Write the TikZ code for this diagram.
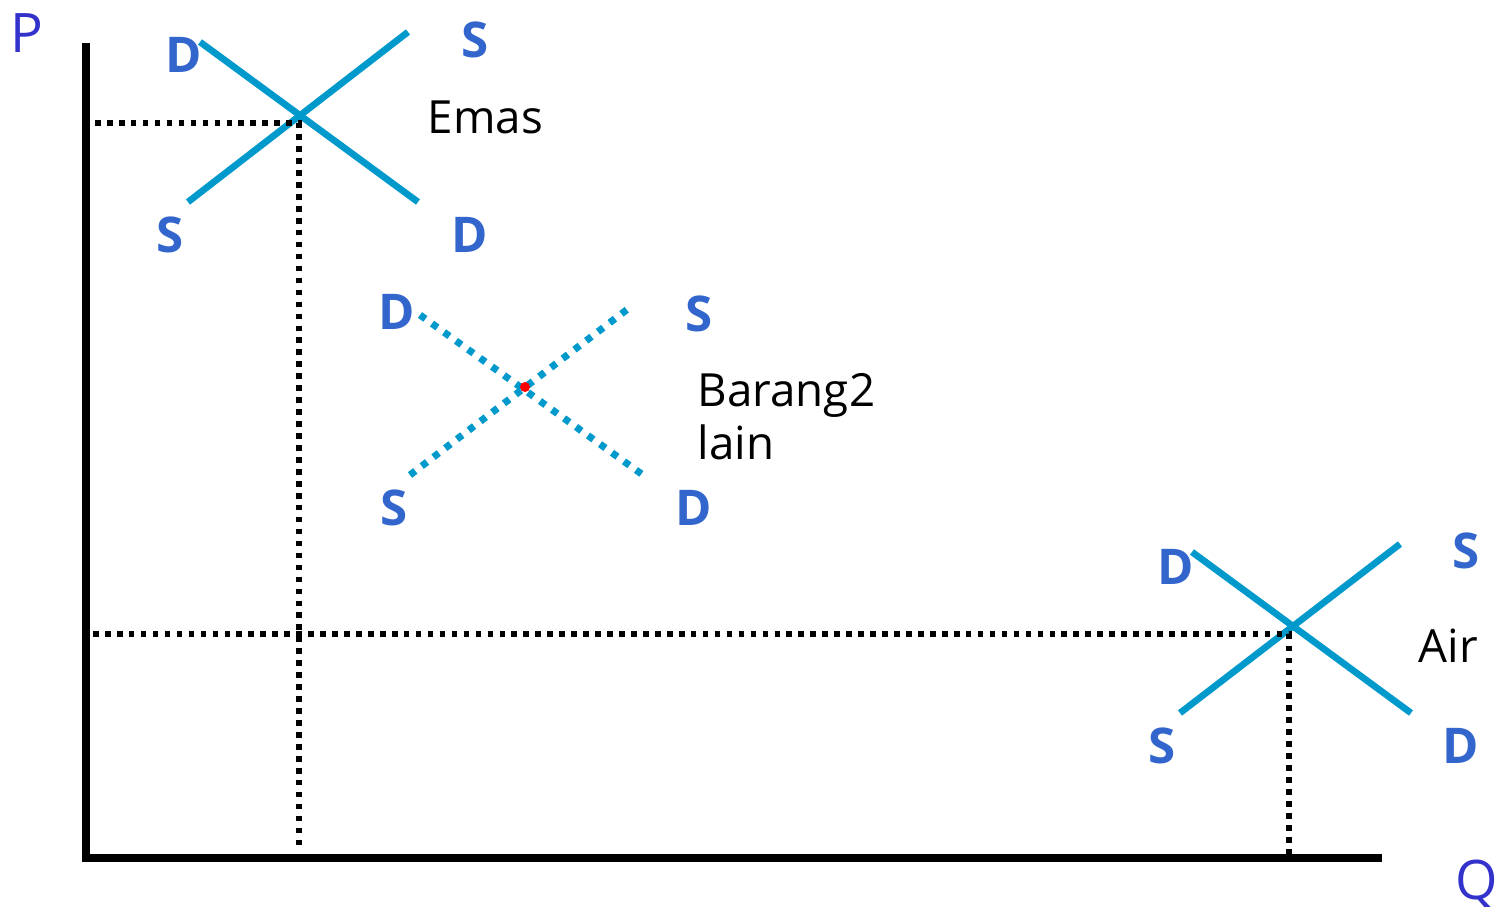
\documentclass[tikz,border=0pt]{standalone}
\usepackage{fontspec}
\setmainfont{Open Sans}
\definecolor{ccurve}{HTML}{0099CC}
\definecolor{clabel}{HTML}{3366CC}
\definecolor{caxis}{HTML}{3333CC}
\tikzset{
  axis/.style={line width=2.2pt},
  curve/.style={draw=ccurve, line width=1.9pt},
  dotcurve/.style={draw=ccurve, line width=2pt, dash pattern=on 1.9pt off 2.3pt},
  guide/.style={line width=1.6pt, dash pattern=on 1.6pt off 1.8pt},
  sd/.style={text=clabel, font=\bfseries\fontsize{14}{16}\selectfont, inner sep=0pt},
  good/.style={font=\fontsize{13}{15}\selectfont, align=left, inner sep=0pt},
  axlabel/.style={text=caxis, font=\fontsize{15.5}{17}\selectfont, inner sep=0pt},
}

\begin{document}
\begin{tikzpicture}[x=0.01cm, y=-0.01cm]
  \useasboundingbox (0,0) rectangle (1499,907);
  % axes
  \coordinate (origin) at (86,858);
  \draw[axis] (86,43) -- (origin) -- (1382,858);
  \node[axlabel] (p) at (27,33) {P};
  \node[axlabel] (q) at (1477,884) {Q};
  % emas
  \coordinate (e1) at (299,117);
  \draw[curve] (200,42) -- (418,202);
  \draw[curve] (188,202) -- (408,32);
  \draw[guide] (95,123) -- (299,123) -- (299,850);
  \node[sd] at (184,55) {D};
  \node[sd] at (475,40) {S};
  \node[sd] at (170,235) {S};
  \node[sd] at (470,235) {D};
  \node[good, anchor=west] (emas) at (427,117) {Emas};
  % barang lain
  \coordinate (e2) at (525,387);
  \draw[dotcurve] (420,315) -- (643,475);
  \draw[dotcurve] (410,475) -- (633,305);
  \fill[red] (e2) circle (5);
  \node[sd] at (397,312) {D};
  \node[sd] at (699,314) {S};
  \node[sd] at (394,508) {S};
  \node[sd] at (694,508) {D};
  \node[good, anchor=west] (lain) at (697,417) {Barang2\\lain};
  % air
  \coordinate (e3) at (1292,627);
  \draw[curve] (1192,552) -- (1411,713);
  \draw[curve] (1180,713) -- (1400,544);
  \draw[guide] (93,634) -- (1289,634) -- (1289,855);
  \node[sd] at (1176,567) {D};
  \node[sd] at (1466,551) {S};
  \node[sd] at (1162,746) {S};
  \node[sd] at (1461,746) {D};
  \node[good, anchor=west] (air) at (1418,646) {Air};
\end{tikzpicture}
\end{document}
